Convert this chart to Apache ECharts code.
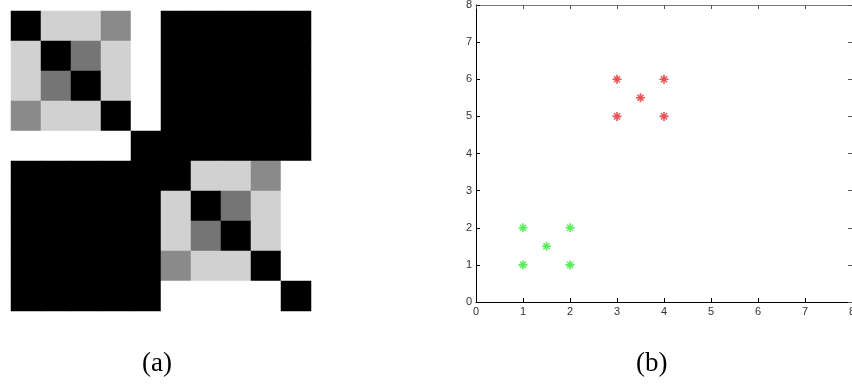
<!DOCTYPE html>
<html>
<head>
<meta charset="utf-8">
<script src="https://cdn.jsdelivr.net/npm/echarts@6/dist/echarts.min.js"></script>
<style>html,body{margin:0;padding:0;background:#fff;}#c{width:852px;height:392px;}</style>
</head>
<body>
<div id="c"></div>
<script>
// (a) similarity matrix, rows top to bottom, 0 = white, 1 = black
const matrixRows = [
  [1.00, 0.18, 0.18, 0.46, 0.00, 1.00, 1.00, 1.00, 1.00, 1.00],
  [0.18, 1.00, 0.54, 0.18, 0.00, 1.00, 1.00, 1.00, 1.00, 1.00],
  [0.18, 0.54, 1.00, 0.18, 0.00, 1.00, 1.00, 1.00, 1.00, 1.00],
  [0.46, 0.18, 0.18, 1.00, 0.00, 1.00, 1.00, 1.00, 1.00, 1.00],
  [0.00, 0.00, 0.00, 0.00, 1.00, 1.00, 1.00, 1.00, 1.00, 1.00],
  [1.00, 1.00, 1.00, 1.00, 1.00, 1.00, 0.18, 0.18, 0.46, 0.00],
  [1.00, 1.00, 1.00, 1.00, 1.00, 0.18, 1.00, 0.54, 0.18, 0.00],
  [1.00, 1.00, 1.00, 1.00, 1.00, 0.18, 0.54, 1.00, 0.18, 0.00],
  [1.00, 1.00, 1.00, 1.00, 1.00, 0.46, 0.18, 0.18, 1.00, 0.00],
  [1.00, 1.00, 1.00, 1.00, 1.00, 0.00, 0.00, 0.00, 0.00, 1.00]
];
const matrixCats = ['1','2','3','4','5','6','7','8','9','10'];

// (b) scatter points
const redX   = [3, 4, 3.5, 3, 4];
const redY   = [6, 6, 5.5, 5, 5];
const greenX = [1, 2, 1.5, 1, 2];
const greenY = [2, 2, 1.5, 1, 1];
const axisTicks = [0, 1, 2, 3, 4, 5, 6, 7, 8];

const captions = ['(a)', '(b)'];

const heatData = [];
matrixRows.forEach((row, r) => row.forEach((v, c) => heatData.push([c, r, v])));
const redData = redX.map((x, i) => [x, redY[i]]);
const greenData = greenX.map((x, i) => [x, greenY[i]]);

const star = 'path://M4.1,0L5.9,0L5.9,10L4.1,10Z M0,4.1L10,4.1L10,5.9L0,5.9Z M1.1,2.2L2.2,1.1L8.9,7.8L7.8,8.9Z M7.8,1.1L8.9,2.2L2.2,8.9L1.1,7.8Z';

const lblFont = {fontFamily: 'Liberation Sans, Arial, sans-serif', fontSize: 11, color: '#333'};

const chart = echarts.init(document.getElementById('c'), null, {renderer: 'canvas'});
chart.setOption({
  animation: false,
  backgroundColor: '#fff',
  grid: [
    {left: 11, top: 11, width: 300, height: 300, outerBoundsMode: 'none', containLabel: false},
    {left: 476, top: 5, width: 376, height: 297, outerBoundsMode: 'none', containLabel: false}
  ],
  visualMap: {
    show: false, seriesIndex: 0, min: 0, max: 1,
    inRange: {color: ['#ffffff', '#000000']}
  },
  xAxis: [
    {type: 'category', gridIndex: 0, data: matrixCats, show: false},
    {type: 'value', gridIndex: 1, min: axisTicks[0], max: axisTicks[axisTicks.length - 1], interval: 1,
     axisLine: {show: true, lineStyle: {color: '#000', width: 1}},
     axisTick: {show: true, inside: true, length: 4, lineStyle: {color: '#000'}},
     axisLabel: Object.assign({margin: 4, hideOverlap: false}, lblFont),
     splitLine: {show: false}},
    {type: 'value', gridIndex: 1, position: 'top', min: 0, max: 8, interval: 1,
     axisLine: {show: true, onZero: false, lineStyle: {color: '#777', width: 1}},
     axisTick: {show: true, inside: true, length: 4, lineStyle: {color: '#555'}},
     axisLabel: {show: false}, splitLine: {show: false}}
  ],
  yAxis: [
    {type: 'category', gridIndex: 0, data: matrixCats, inverse: true, show: false},
    {type: 'value', gridIndex: 1, min: 0, max: 8, interval: 1,
     axisLine: {show: true, lineStyle: {color: '#000', width: 1}},
     axisTick: {show: true, inside: true, length: 4, lineStyle: {color: '#000'}},
     axisLabel: Object.assign({margin: 4}, lblFont),
     splitLine: {show: false}},
    {type: 'value', gridIndex: 1, position: 'right', min: 0, max: 8, interval: 1,
     axisLine: {show: true, onZero: false, lineStyle: {color: '#777', width: 1}},
     axisTick: {show: true, inside: true, length: 4, lineStyle: {color: '#555'}},
     axisLabel: {show: false}, splitLine: {show: false}}
  ],
  series: [
    {type: 'heatmap', xAxisIndex: 0, yAxisIndex: 0, data: heatData,
     itemStyle: {borderWidth: 0}, emphasis: {disabled: true}},
    {type: 'scatter', xAxisIndex: 1, yAxisIndex: 1, data: redData,
     symbol: star, symbolSize: 9, itemStyle: {color: '#e3262a'}},
    {type: 'scatter', xAxisIndex: 1, yAxisIndex: 1, data: greenData,
     symbol: star, symbolSize: 9, itemStyle: {color: '#2ee82e'}}
  ],
  graphic: [
    {type: 'text', left: 160 - 18, top: 350,
     style: {text: captions[0], font: '27px "Liberation Serif", serif', fill: '#000'}},
    {type: 'text', left: 655 - 19, top: 350,
     style: {text: captions[1], font: '27px "Liberation Serif", serif', fill: '#000'}}
  ]
});
</script>
</body>
</html>
